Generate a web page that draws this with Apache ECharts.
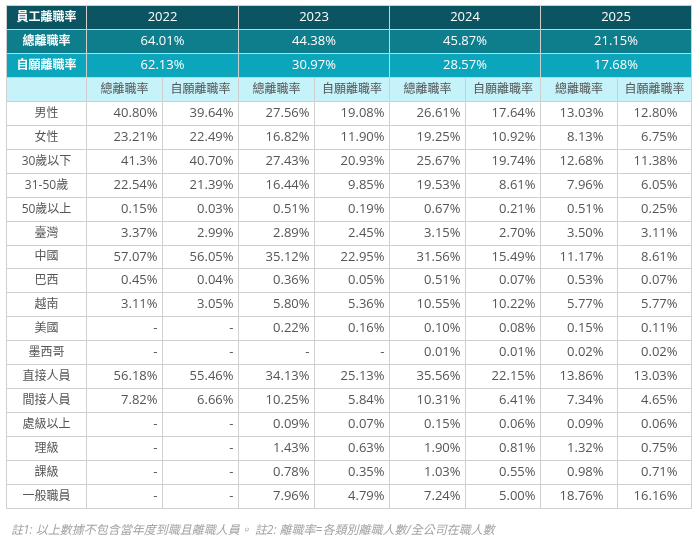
<!DOCTYPE html>
<html>
<head>
<meta charset="utf-8">
<script src="https://cdn.jsdelivr.net/npm/echarts@6/dist/echarts.min.js"></script>
<style>
  html, body { margin: 0; padding: 0; background: #fff; }
  #divChart { width: 698px; height: 542px; }
</style>
</head>
<body>
<div id="divChart"></div>
<script>
// 表頭
var cornerTitle = '員工離職率';
var years = ['2022', '2023', '2024', '2025'];
var totalRate = ['64.01%', '44.38%', '45.87%', '21.15%'];
var voluntaryRate = ['62.13%', '30.97%', '28.57%', '17.68%'];
var rateNames = ['總離職率', '自願離職率'];

// 列名
var rowLabels = ['男性', '女性', '30歲以下', '31-50歲', '50歲以上', '臺灣', '中國', '巴西', '越南',
    '美國', '墨西哥', '直接人員', '間接人員', '處級以上', '理級', '課級', '一般職員'];

// 各年度 總離職率 / 自願離職率
var total2022 = ['40.80%', '23.21%', '41.3%', '22.54%', '0.15%', '3.37%', '57.07%', '0.45%', '3.11%', '-', '-', '56.18%', '7.82%', '-', '-', '-', '-'];
var vol2022 = ['39.64%', '22.49%', '40.70%', '21.39%', '0.03%', '2.99%', '56.05%', '0.04%', '3.05%', '-', '-', '55.46%', '6.66%', '-', '-', '-', '-'];
var total2023 = ['27.56%', '16.82%', '27.43%', '16.44%', '0.51%', '2.89%', '35.12%', '0.36%', '5.80%', '0.22%', '-', '34.13%', '10.25%', '0.09%', '1.43%', '0.78%', '7.96%'];
var vol2023 = ['19.08%', '11.90%', '20.93%', '9.85%', '0.19%', '2.45%', '22.95%', '0.05%', '5.36%', '0.16%', '-', '25.13%', '5.84%', '0.07%', '0.63%', '0.35%', '4.79%'];
var total2024 = ['26.61%', '19.25%', '25.67%', '19.53%', '0.67%', '3.15%', '31.56%', '0.51%', '10.55%', '0.10%', '0.01%', '35.56%', '10.31%', '0.15%', '1.90%', '1.03%', '7.24%'];
var vol2024 = ['17.64%', '10.92%', '19.74%', '8.61%', '0.21%', '2.70%', '15.49%', '0.07%', '10.22%', '0.08%', '0.01%', '22.15%', '6.41%', '0.06%', '0.81%', '0.55%', '5.00%'];
var total2025 = ['13.03%', '8.13%', '12.68%', '7.96%', '0.51%', '3.50%', '11.17%', '0.53%', '5.77%', '0.15%', '0.02%', '13.86%', '7.34%', '0.09%', '1.32%', '0.98%', '18.76%'];
var vol2025 = ['12.80%', '6.75%', '11.38%', '6.05%', '0.25%', '3.11%', '8.61%', '0.07%', '5.77%', '0.11%', '0.02%', '13.03%', '4.65%', '0.06%', '0.75%', '0.71%', '16.16%'];

var note = '註1: 以上數據不包含當年度到職且離職人員。 註2: 離職率=各類別離職人數/全公司在職人數';

// 欄寬 (版面用)
var colWidths = [80, 76, 76, 76, 75, 76, 75, 77, 74];

var myChart;

function colEdge(i) {
    var s = 0;
    for (var k = 0; k < i; k++) s += colWidths[k];
    return s;
}

function buildCells() {
    var cells = [];
    var valueCols = [total2022, vol2022, total2023, vol2023, total2024, vol2024, total2025, vol2025];
    var hdr = [totalRate, voluntaryRate];

    cells.push({ c0: 0, c1: 1, row: 0, text: cornerTitle, kind: 'h0', bold: true, size: 12 });
    for (var i = 0; i < years.length; i++) {
        cells.push({ c0: 1 + 2 * i, c1: 3 + 2 * i, row: 0, text: years[i], kind: 'h0' });
    }
    for (var r = 0; r < 2; r++) {
        cells.push({ c0: 0, c1: 1, row: r + 1, text: rateNames[r], kind: 'h' + (r + 1), bold: true, size: 12 });
        for (var j = 0; j < years.length; j++) {
            cells.push({ c0: 1 + 2 * j, c1: 3 + 2 * j, row: r + 1, text: hdr[r][j], kind: 'h' + (r + 1) });
        }
    }
    cells.push({ c0: 0, c1: 1, row: 3, text: '', kind: 'h3' });
    for (var m = 0; m < 8; m++) {
        cells.push({ c0: m + 1, c1: m + 2, row: 3, text: rateNames[m % 2], kind: 'h3', size: 12 });
    }
    for (var n = 0; n < rowLabels.length; n++) {
        cells.push({ c0: 0, c1: 1, row: n + 4, text: rowLabels[n], kind: 'label', size: 12 });
        for (var c = 0; c < 8; c++) {
            cells.push({ c0: c + 1, c1: c + 2, row: n + 4, text: valueCols[c][n], kind: 'num', pad: c >= 6 ? 14 : 5 });
        }
    }
    return cells;
}

var fills = { h0: '#0b5563', h1: '#0f7e8c', h2: '#0ba6bb', h3: '#c6f2f9', label: '#ffffff', num: '#ffffff' };
var fontFam = "'Open Sans', 'Noto Sans CJK TC', sans-serif";

function initChart() {
    var cells = buildCells();
    var rows = [];
    for (var i = 0; i < 4 + rowLabels.length; i++) rows.push(String(i));

    var option = {
        animation: false,
        title: {
            text: note,
            left: 6,
            top: 520,
            textStyle: { fontSize: 12, fontStyle: 'italic', fontWeight: 'normal', color: '#a3a3a3', fontFamily: fontFam }
        },
        grid: { left: 6, top: 5, width: colEdge(colWidths.length), height: 503 },
        xAxis: { type: 'value', min: 0, max: colEdge(colWidths.length), show: false },
        yAxis: { type: 'category', data: rows, inverse: true, show: false },
        series: [{
            type: 'custom',
            data: cells.map(function (c) { return [colEdge(c.c0), colEdge(c.c1), c.row]; }),
            renderItem: function (params, api) {
                var cell = cells[params.dataIndex];
                var p0 = api.coord([api.value(0), api.value(2)]);
                var p1 = api.coord([api.value(1), api.value(2)]);
                var h = api.size([0, 1])[1];
                var x = Math.round(p0[0]) + 0.5, w = Math.round(p1[0]) - Math.round(p0[0]);
                var y = Math.round(p0[1] - h / 2) + 0.5, hh = Math.round(p0[1] + h / 2) - Math.round(p0[1] - h / 2);
                var isHead = cell.kind === 'h0' || cell.kind === 'h1' || cell.kind === 'h2';
                var align = 'center', tx = x + w / 2;
                if (cell.kind === 'num') { align = 'right'; tx = x + w - cell.pad; }
                return {
                    type: 'group',
                    children: [{
                        type: 'rect',
                        shape: { x: x, y: y, width: w, height: hh },
                        style: { fill: fills[cell.kind], stroke: '#cfcfcf', lineWidth: 1 }
                    }, {
                        type: 'text',
                        style: {
                            x: tx, y: y + hh / 2,
                            text: cell.text,
                            align: align, verticalAlign: 'middle',
                            fill: isHead ? '#ffffff' : '#555555',
                            fontSize: cell.size || 13,
                            fontWeight: cell.bold ? 'bold' : 'normal',
                            fontFamily: fontFam
                        }
                    }]
                };
            }
        }]
    };
    myChart.setOption(option);
}

myChart = echarts.init(document.getElementById('divChart'));
initChart();
</script>
</body>
</html>
